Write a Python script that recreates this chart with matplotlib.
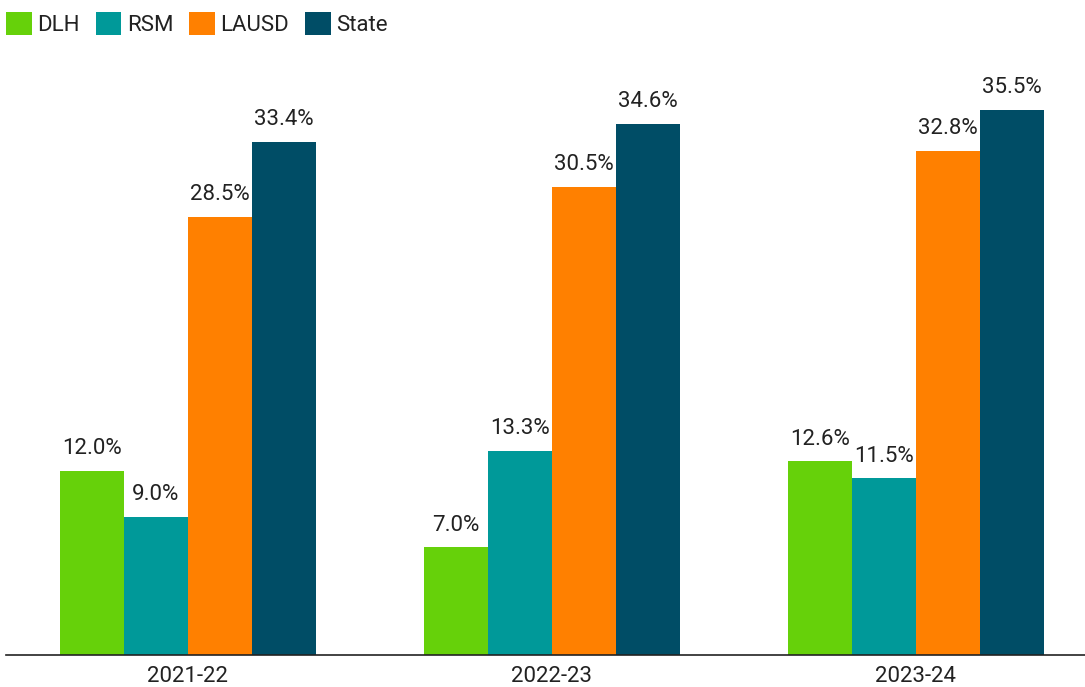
import numpy as np
import matplotlib
matplotlib.use("Agg")
import matplotlib.pyplot as plt

plt.rcParams['font.family'] = ['Roboto', 'DejaVu Sans']

years = ['2021-22', '2022-23', '2023-24']
series = ['DLH', 'RSM', 'LAUSD', 'State']
dlh = [12.0, 7.0, 12.6]
rsm = [9.0, 13.3, 11.5]
lausd = [28.5, 30.5, 32.8]
state = [33.4, 34.6, 35.5]
colors = ['#66d10a', '#009999', '#ff8000', '#004d66']

values = [dlh, rsm, lausd, state]

fig = plt.figure(figsize=(10.85, 6.87), dpi=100)
ax = fig.add_axes([6 / 1085, 32 / 687, 1 - 6 / 1085, (655 - 60) / 687])

x = np.arange(len(years))
width = 0.176
txt_color = '#222222'

for i, (name, vals, col) in enumerate(zip(series, values, colors)):
    pos = x + (i - 1.5) * width
    bars = ax.bar(pos, vals, width, color=col, label=name)
    for b, v in zip(bars, vals):
        ax.annotate(f'{v:.1f}%', (b.get_x() + b.get_width() / 2, v),
                    xytext=(0, 8.5), textcoords='offset points',
                    ha='center', va='bottom', fontsize=16, color=txt_color)

ax.set_xlim(-0.5, 2.465)
ax.set_ylim(0, 595 / 15.36)
ax.set_xticks(x)
ax.set_xticklabels(years, fontsize=16, color=txt_color)
ax.tick_params(axis='x', length=0, pad=8)
ax.set_yticks([])
for s in ['top', 'right', 'left']:
    ax.spines[s].set_visible(False)
ax.spines['bottom'].set_color('#222222')
ax.spines['bottom'].set_linewidth(1.2)

fig.legend(loc='upper left', bbox_to_anchor=(6 / 1085 - 0.004, 1.0 - 8 / 687), ncol=4, frameon=False,
           fontsize=16, handlelength=1.15, handleheight=1.15, handletextpad=0.25,
           columnspacing=0.72, borderaxespad=0.0, borderpad=0.2, labelcolor=txt_color)

fig.savefig('out.png', dpi=100)
